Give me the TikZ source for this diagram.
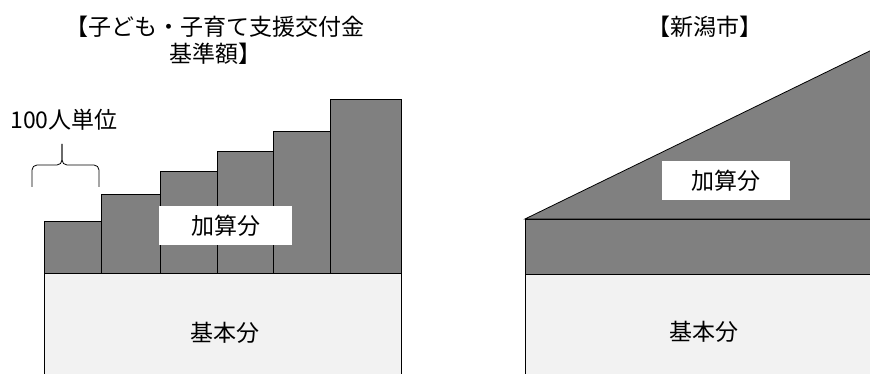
\documentclass[tikz,border=0pt]{standalone}
\usepackage{fontspec}
\setmainfont{Noto Sans CJK JP}
\definecolor{addgray}{HTML}{808080}
\definecolor{basegray}{HTML}{F2F2F2}
\tikzset{
  addpart/.style={draw=black, fill=addgray, line width=0.8pt},
  basepart/.style={draw=black, fill=basegray, line width=0.8pt},
  labelbox/.style={fill=white, inner sep=0pt, minimum height=39pt},
  caption/.style={font=\fontsize{23}{27}\selectfont, align=center},
  bracket/.style={line width=0.8pt, rounded corners=5pt},
}

\begin{document}
\begin{tikzpicture}[x=1pt,y=-1pt]
        \clip (0,0) rectangle (870,374);
        \fill[white] (0,0) rectangle (870,374);

        % left: base and stepped additions
        \draw[basepart] (44,273) rectangle (401,380);
        \foreach \xa/\xb/\top in {44/101/221, 101/160/194, 160/217/171, 217/273/151, 273/330/131, 330/401/99}{
          \draw[addpart] (\xa,273) rectangle (\xb,\top);
        }
        \node[labelbox, minimum width=133pt] (addL) at (225.5,225.5) {};
        \node[caption] at (addL) {加算分};
        \node[caption] (baseL) at (225,333) {基本分};

        % 100 per step
        \coordinate (tip) at (62,144);
        \draw[bracket] (32,187) -- (32,165) -- (62,165) -- (tip);
        \draw[bracket] (99,187) -- (99,165) -- (62,165) -- (tip);
        \node[caption] (unit) at (64,120) {100人単位};

        % titles
        \node[caption] (titleL) at (215,40) {【子ども・子育て支援交付金\\基準額】};
        \node[caption] (titleR) at (705,27) {【新潟市】};

        % right: base, band and slope
        \draw[basepart] (525,274) rectangle (880,380);
        \draw[addpart] (525,219) rectangle (880,274);
        \draw[addpart] (525,219) -- (880,46) -- (880,219) -- cycle;
        \node[labelbox, minimum width=128pt] (addR) at (726,180.5) {};
        \node[caption] at (addR) {加算分};
        \node[caption] (baseR) at (704,332) {基本分};
\end{tikzpicture}
\end{document}
